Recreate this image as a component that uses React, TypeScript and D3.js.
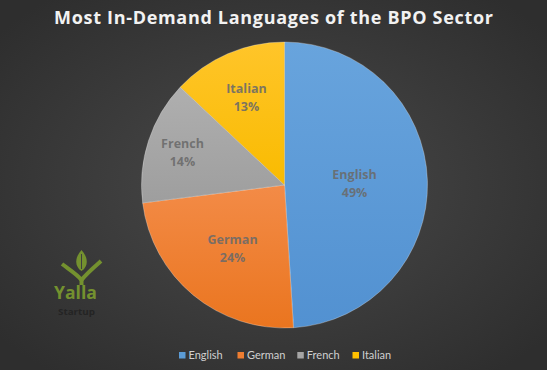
import React from "react";
import * as d3 from "d3";

const categories = ["English", "German", "French", "Italian"];
const values = [49, 24, 14, 13];
const percentLabels = ["49%", "24%", "14%", "13%"];

const W = 547;
const H = 370;
const cx = 284.5;
const cy = 185;
const R = 143;

const sliceTop = ["#68a4dd", "#f38b47", "#afafaf", "#ffc52a"];
const sliceBottom = ["#5291d1", "#ea751f", "#9e9e9e", "#f9bb00"];
const legendColors = ["#5b9bd5", "#ed7d31", "#a5a5a5", "#ffc000"];
const labelRadiusFactor = [0.49, 0.57, 0.75, 0.67];

export default function App() {
  const pie = d3.pie<number>().sort(null).value((d) => d);
  const arcs = pie(values);
  const arc = d3.arc<d3.PieArcDatum<number>>().innerRadius(0).outerRadius(R);

  const legendX = d3.scaleOrdinal<string, number>().domain(categories).range([179, 237.5, 297.3, 352.5]);

  return (
    <svg width={W} height={H} style={{ position: "absolute", left: 0, top: 0, display: "block" }}>
      <defs>
        <radialGradient id="bg" cx="50%" cy="50%" r="65%">
          <stop offset="0%" stopColor="#4a4a4a" />
          <stop offset="100%" stopColor="#2e2e2e" />
        </radialGradient>
        {categories.map((c, i) => (
          <linearGradient key={c} id={`g${i}`} x1="0" y1="0" x2="0" y2="1">
            <stop offset="0%" stopColor={sliceTop[i]} />
            <stop offset="100%" stopColor={sliceBottom[i]} />
          </linearGradient>
        ))}
      </defs>
      <rect x={0} y={0} width={W} height={H} fill="url(#bg)" />
      <text
        x={273.5}
        y={24}
        textAnchor="middle"
        fill="#f2f2f2"
        fontFamily="'Open Sans', sans-serif"
        fontWeight="bold"
        fontSize={18}
        textLength={439}
        lengthAdjust="spacing"
      >
        Most In-Demand Languages of the BPO Sector
      </text>
      <g transform={`translate(${cx},${cy})`}>
        {arcs.map((a, i) => (
          <path key={i} d={arc(a) || ""} fill={`url(#g${i})`} stroke="rgba(255,255,255,0.35)" strokeWidth={0.8} />
        ))}
        {arcs.map((a, i) => {
          const r = R * labelRadiusFactor[i];
          const ang = (a.startAngle + a.endAngle) / 2;
          const x = Math.sin(ang) * r;
          const y = -Math.cos(ang) * r;
          return (
            <g key={`l${i}`} fontFamily="'Open Sans', sans-serif" fontWeight="bold" fontSize={12.5} fill="#6a6a6a" fillOpacity={0.88} textAnchor="middle">
              <text x={x} y={y - 4}>{categories[i]}</text>
              <text x={x} y={y + 14}>{percentLabels[i]}</text>
            </g>
          );
        })}
      </g>
      {/* logo */}
      <g>
        <path d="M81.5,250 C75,257 74,266 81.5,271 C89,266 88,257 81.5,250 Z" fill="#74912f" />
        <path d="M81.5,254 L81.5,269" stroke="#3f3f3f" strokeWidth={1} />
        <path d="M62,264 C70,270 77,274 81.5,280 C86,274 93,268 101,261" stroke="#74912f" strokeWidth={4} fill="none" />
        <path d="M81.5,278 L81.5,285" stroke="#74912f" strokeWidth={4} />
        <text x={75.5} y={299} textAnchor="middle" fontFamily="'Liberation Sans Narrow', 'Open Sans', sans-serif" fontWeight="bold" fontSize={17} fill="#74912f" textLength={43} lengthAdjust="spacingAndGlyphs">Yalla</text>
        <text x={76.5} y={314.5} textAnchor="middle" fontFamily="'Open Sans', sans-serif" fontWeight="bold" fontSize={9.5} fill="#242424" textLength={37} lengthAdjust="spacingAndGlyphs">Startup</text>
      </g>
      {/* legend */}
      {categories.map((c, i) => (
        <g key={`lg${i}`}>
          <rect x={legendX(c)} y={352} width={6.5} height={6.5} fill={legendColors[i]} />
          <text x={legendX(c) + 9.5} y={359} fontFamily="Lato, sans-serif" fontSize={11} fill="#d0d0d0">{c}</text>
        </g>
      ))}
    </svg>
  );
}
